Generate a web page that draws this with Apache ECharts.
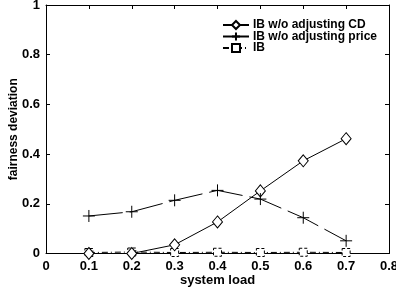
<!DOCTYPE html>
<html><head><meta charset="utf-8">
<script src="https://cdn.jsdelivr.net/npm/echarts@6/dist/echarts.min.js"></script>
<style>html,body{margin:0;padding:0;background:#fff}#c{width:396px;height:288px}</style>
</head><body><div id="c"></div>
<script>
var loads = [0.1, 0.2, 0.3, 0.4, 0.5, 0.6, 0.7];
var cdValues = [0.0, 0.0, 0.035, 0.127, 0.252, 0.373, 0.462];
var priceValues = [0.151, 0.168, 0.214, 0.254, 0.219, 0.144, 0.051];
var ibValues = [0.004, 0.006, 0.004, 0.005, 0.004, 0.005, 0.004];
var seriesNames = ['IB w/o adjusting CD', 'IB w/o adjusting price', 'IB'];

function pairs(v){ return loads.map(function(x,i){return [x, v[i]];}); }
var font = 'Liberation Sans, Arial, sans-serif';
var chart = echarts.init(document.getElementById('c'), null, {renderer:'canvas'});
function axisCommon(){ return {
  axisLine:{show:true, onZero:false, lineStyle:{color:'#000', width:1}},
  axisTick:{show:true, inside:true, length:4, lineStyle:{color:'#000'}},
  splitLine:{show:false}
};}
chart.setOption({
  animation:false,
  backgroundColor:'#fff',
  grid:{left:46, right:7, top:5, bottom:34.5, containLabel:false, outerBoundsMode:'none'},
  legend:{
    orient:'vertical', right:14, top:14, itemGap:-1, itemWidth:26, itemHeight:10,
    textStyle:{fontFamily:font, fontWeight:'bold', fontSize:12, color:'#000', padding:[0,0,0,-1]},
    data:seriesNames
  },
  xAxis:[
    Object.assign({type:'value', min:0, max:0.8, interval:0.1, position:'bottom',
      name:'system load', nameLocation:'middle', nameGap:20, nameMoveOverlap:false,
      nameTextStyle:{fontFamily:font, fontWeight:'bold', fontSize:13, color:'#000'},
      axisLabel:{fontFamily:font, fontWeight:'bold', fontSize:13, color:'#000', margin:6,
        formatter:function(v){return v===0?'0':String(+v.toFixed(1));}}}, axisCommon()),
    Object.assign({type:'value', min:0, max:0.8, interval:0.1, position:'top', axisLabel:{show:false}}, axisCommon())
  ],
  yAxis:[
    Object.assign({type:'value', min:0, max:1, interval:0.2, position:'left',
      name:'fairness deviation', nameLocation:'middle', nameGap:26, nameRotate:90, nameMoveOverlap:false,
      nameTextStyle:{fontFamily:font, fontWeight:'bold', fontSize:12, color:'#000'},
      axisLabel:{fontFamily:font, fontWeight:'bold', fontSize:13, color:'#000', margin:6,
        formatter:function(v){return (v===0||v===1)?String(v):String(+v.toFixed(1));}}}, axisCommon()),
    Object.assign({type:'value', min:0, max:1, interval:0.2, position:'right', axisLabel:{show:false}}, axisCommon())
  ],
  series:[
    {name:seriesNames[0], type:'line', data:pairs(cdValues), symbol:'diamond', symbolSize:[10,12],
      showAllSymbol:true, itemStyle:{color:'#fff', borderColor:'#000', borderWidth:1},
      lineStyle:{color:'#000', width:1}, color:'#000'},
    {name:seriesNames[1], type:'line', data:pairs(priceValues), symbol:'path://M5,0L5,10M0,5L10,5', symbolSize:12,
      itemStyle:{color:'none', borderColor:'#000', borderWidth:1},
      lineStyle:{color:'#000', width:1, type:[34,7]}, color:'#000'},
    {name:seriesNames[2], type:'line', data:pairs(ibValues), symbol:'rect', symbolSize:8,
      itemStyle:{color:'#fff', borderColor:'#000', borderWidth:1, borderType:[3,2]},
      lineStyle:{color:'#000', width:1, type:[6,3,1,3]}, color:'#000', z:1}
  ]
});
</script></body></html>
